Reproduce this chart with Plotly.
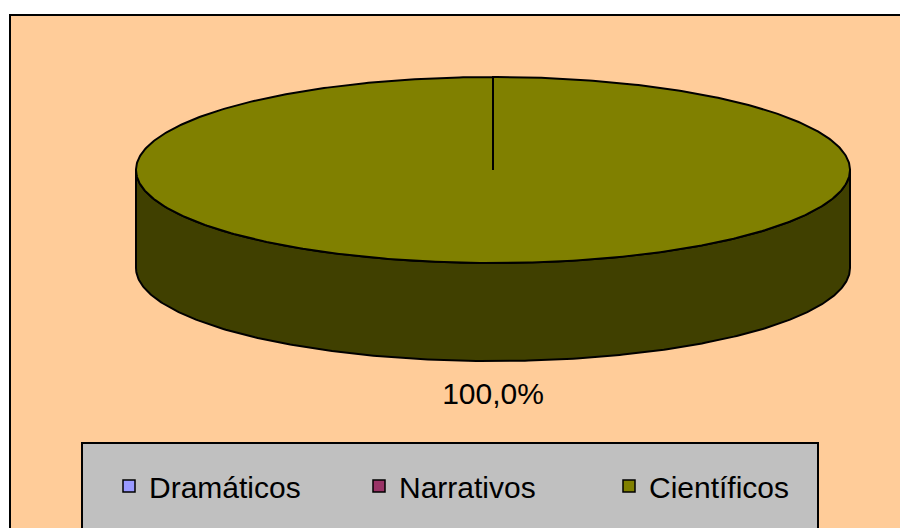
import numpy as np
import plotly.graph_objects as go

categories = ["Dramáticos", "Narrativos", "Científicos"]
values = [0, 0, 100]
colors = ["#9999FF", "#993366", "#808000"]
side_colors = ["#4C4C80", "#4C1933", "#404000"]

# pie geometry, in pixels (the axes map 1:1 onto the 900x528 page)
CX, CY = 493, 170
RX, RY = 357, 93
DEPTH = 98
START = 90  # first slice starts at 12 o'clock, going clockwise
FONT = "Arial, Liberation Sans, sans-serif"


def ellipse(theta, dy=0, pad=0):
    t = np.radians(theta)
    return CX + (RX + pad) * np.cos(t), CY - (RY + pad) * np.sin(t) + dy


fig = go.Figure()

total = sum(values)
cum = 0
slices = []
for name, v, c, sc in zip(categories, values, colors, side_colors):
    a1 = START - cum / total * 360
    a2 = a1 - v / total * 360
    cum += v
    slices.append((name, v, c, sc, a1, a2))

# side walls (front half only)
for name, v, c, sc, a1, a2 in slices:
    if v <= 0:
        continue
    for k in (-2, -1, 0, 1):
        lo, hi = max(a2, -180 + 360 * k), min(a1, 360 * k)
        if hi <= lo:
            continue
        th = np.linspace(lo, hi, 300)
        xt, yt = ellipse(th)
        xb, yb = ellipse(th[::-1], dy=DEPTH)
        fig.add_trace(go.Scatter(
            x=np.concatenate([xt, xb, xt[:1]]),
            y=np.concatenate([yt, yb, yt[:1]]),
            mode="lines", fill="toself", fillcolor=sc,
            line=dict(color="black", width=2),
            hoverinfo="skip", showlegend=False
        ))

# top faces
for name, v, c, sc, a1, a2 in slices:
    if v <= 0:
        continue
    th = np.linspace(a1, a2, 600)
    xs, ys = ellipse(th)
    fig.add_trace(go.Scatter(
        x=np.concatenate([[CX], xs, [CX]]),
        y=np.concatenate([[CY], ys, [CY]]),
        mode="lines", fill="toself", fillcolor=c,
        line=dict(color="black", width=2),
        hoverinfo="skip", showlegend=False
    ))

# data labels
for name, v, c, sc, a1, a2 in slices:
    if v <= 0:
        continue
    mid = (a1 + a2) / 2
    lx, ly = ellipse(mid, pad=35)
    if np.sin(np.radians(mid)) < 0:
        ly += DEPTH
    pct = f"{v / total * 100:.1f}%".replace(".", ",")
    fig.add_trace(go.Scatter(
        x=[lx], y=[ly], mode="text", text=[pct],
        textposition="middle center",
        textfont=dict(family=FONT, size=30, color="black"),
        hoverinfo="skip", showlegend=False
    ))

# legend entries
for name, c in zip(categories, colors):
    fig.add_trace(go.Scatter(
        x=[None], y=[None], mode="markers", name=name,
        marker=dict(symbol="square", size=12, color=c,
                    line=dict(color="black", width=1.5))
    ))

fig.update_layout(
    width=900,
    height=528,
    margin=dict(l=0, r=0, t=0, b=0, autoexpand=False),
    paper_bgcolor="white",
    plot_bgcolor="rgba(0,0,0,0)",
    xaxis=dict(range=[0, 900], visible=False, fixedrange=True),
    yaxis=dict(range=[528, 0], visible=False, fixedrange=True),
    shapes=[
        dict(type="rect", xref="x", yref="y", x0=10, y0=15, x1=920, y1=560,
             fillcolor="#FFCC99", line=dict(color="black", width=2), layer="below"),
        dict(type="rect", xref="x", yref="y", x0=82, y0=443, x1=818, y1=560,
             fillcolor="#C0C0C0", line=dict(color="black", width=2), layer="below"),
    ],
    legend=dict(
        orientation="h",
        x=109 / 900, xanchor="left",
        y=1 - 486 / 528, yanchor="middle",
        bgcolor="rgba(0,0,0,0)",
        entrywidth=205,
        font=dict(family=FONT, size=30, color="black")
    ),
    showlegend=True
)

fig.write_html("out.html", config={"displayModeBar": False},
               post_script="document.body.style.margin='0px';")
